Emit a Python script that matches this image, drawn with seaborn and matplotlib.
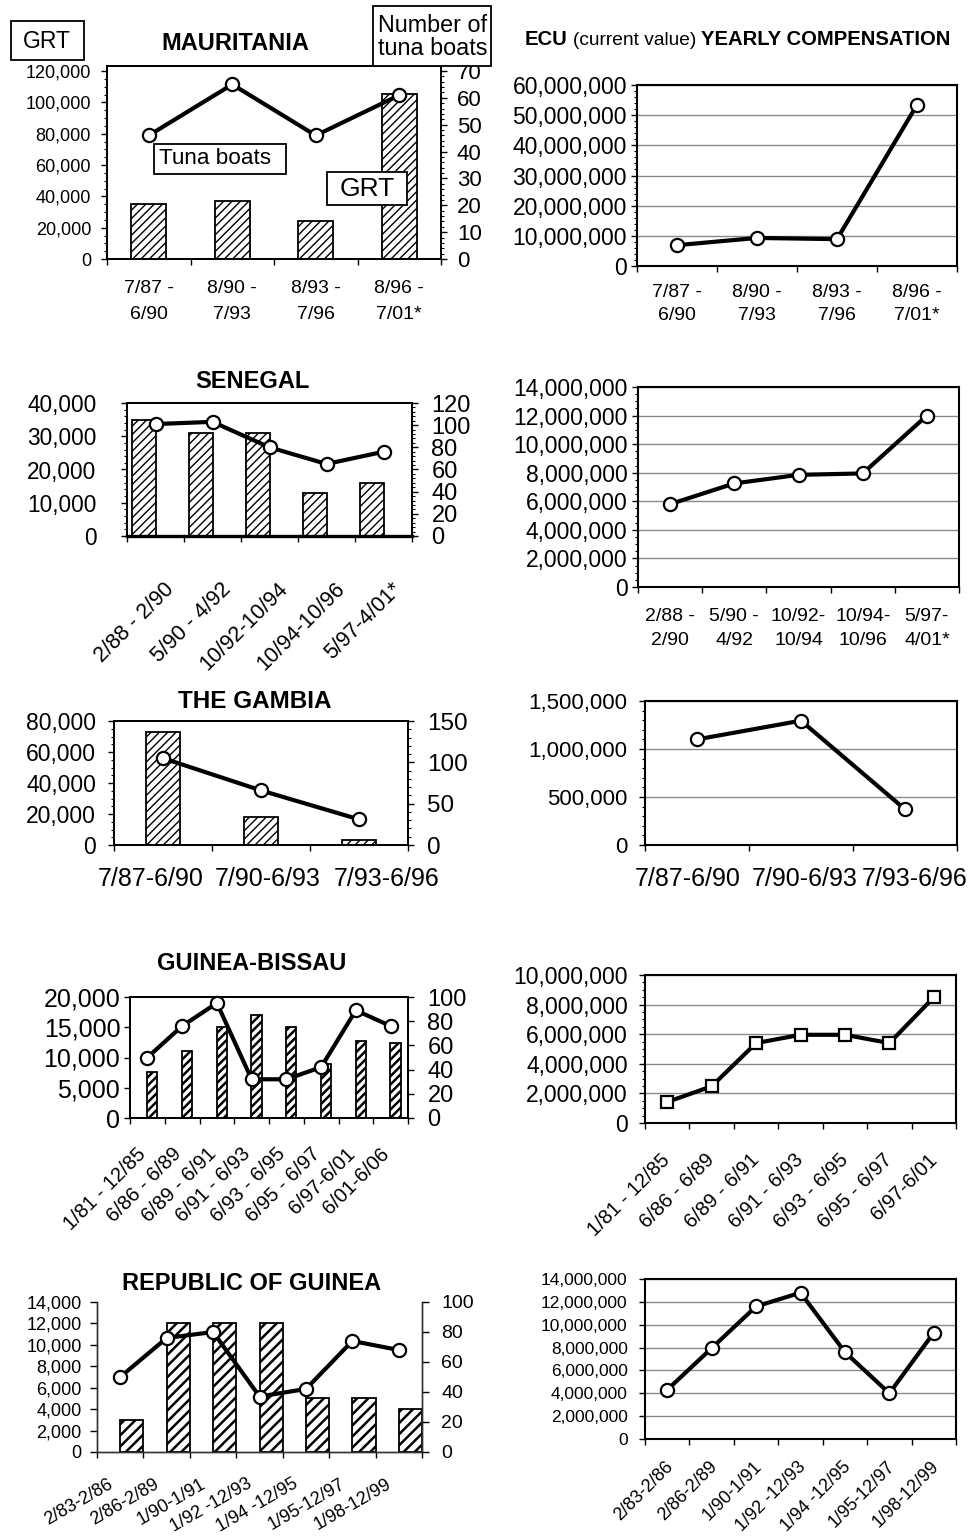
import numpy as np
import pandas as pd
import matplotlib
matplotlib.use("Agg")
import matplotlib.pyplot as plt
import seaborn as sns
from matplotlib.ticker import FixedLocator, MultipleLocator, FuncFormatter, NullFormatter, NullLocator
from matplotlib.transforms import ScaledTranslation, blended_transform_factory
from matplotlib.patches import Rectangle

# ---------------- data ----------------
maur_periods = ["7/87 -\n6/90", "8/90 -\n7/93", "8/93 -\n7/96", "8/96 -\n7/01*"]
maur_grt = [35300, 37200, 24300, 105300]
maur_boats = [46, 65, 46, 61]
maur_ecu = [6.9e6, 9.3e6, 8.9e6, 53.4e6]

sen_periods_bar = ["2/88 - 2/90", "5/90 - 4/92", "10/92-10/94", "10/94-10/96", "5/97-4/01*"]
sen_periods_ecu = ["2/88 -\n2/90", "5/90 -\n4/92", "10/92-\n10/94", "10/94-\n10/96", "5/97-\n4/01*"]
sen_grt = [35000, 31000, 31000, 13000, 16000]
sen_boats = [101, 103, 80, 65, 76]
sen_ecu = [5.8e6, 7.25e6, 7.85e6, 7.95e6, 12.0e6]

gam_periods = ["7/87-6/90", "7/90-6/93", "7/93-6/96"]
gam_grt = [73000, 18000, 3200]
gam_boats = [105, 66, 31]
gam_ecu = [1.10e6, 1.295e6, 0.372e6]

gb_periods_bar = ["1/81 - 12/85", "6/86 - 6/89", "6/89 - 6/91", "6/91 - 6/93",
                  "6/93 - 6/95", "6/95 - 6/97", "6/97-6/01", "6/01-6/06"]
gb_grt = [7600, 11100, 15100, 17100, 15000, 9000, 12700, 12400]
gb_boats = [50, 76, 95, 32, 32, 42, 89, 76]
gb_periods_ecu = ["1/81 - 12/85", "6/86 - 6/89", "6/89 - 6/91", "6/91 - 6/93",
                  "6/93 - 6/95", "6/95 - 6/97", "6/97-6/01"]
gb_ecu = [1.42e6, 2.48e6, 5.4e6, 5.96e6, 5.96e6, 5.4e6, 8.49e6]

rg_periods = ["2/83-2/86", "2/86-2/89", "1/90-1/91", "1/92 -12/93",
              "1/94 -12/95", "1/95-12/97", "1/98-12/99"]
rg_grt = [3000, 12000, 12000, 12000, 5000, 5000, 4000]
rg_boats = [50, 76, 80, 37, 42, 74, 68]
rg_ecu = [4.3e6, 7.95e6, 11.6e6, 12.8e6, 7.6e6, 4.0e6, 9.3e6]

# ---------------- style ----------------
sns.set_theme(style="white")
plt.rcParams["font.family"] = ["Liberation Sans", "DejaVu Sans"]
plt.rcParams.update({
    "text.color": "black", "axes.edgecolor": "black", "xtick.color": "black",
    "ytick.color": "black", "axes.labelcolor": "black", "hatch.linewidth": 1.0,
})

W, H, DPI = 973, 1537, 100
fig = plt.figure(figsize=(W / DPI, H / DPI), dpi=DPI)
fig.patch.set_facecolor("white")

FMT = FuncFormatter(lambda v, p: f"{v:,.0f}")


def px_axes(l, t, r, b):
    return fig.add_axes([l / W, 1 - b / H, (r - l) / W, (b - t) / H])


def fig_title(cx, cy, txt, fs=17):
    fig.text(cx / W, 1 - cy / H, txt, ha="center", va="center", fontsize=fs, weight="bold")


def fig_box(l, t, r, b):
    fig.add_artist(Rectangle((l / W, 1 - b / H), (r - l) / W, (b - t) / H,
                             transform=fig.transFigure, facecolor="white",
                             edgecolor="black", lw=1.3, zorder=4))


def spines(ax, lw=1.4, color="black", top=True):
    for s in ax.spines.values():
        s.set_linewidth(lw)
        s.set_color(color)
        s.set_visible(True)
    if not top:
        ax.spines["top"].set_visible(False)


def style_y(ax, major, minor, fs, pad, side="left", length=4):
    ax.yaxis.set_major_locator(MultipleLocator(major))
    if minor:
        ax.yaxis.set_minor_locator(MultipleLocator(minor))
    else:
        ax.yaxis.set_minor_locator(NullLocator())
    ax.yaxis.set_major_formatter(FMT)
    if side == "left":
        kw = dict(left=True, right=False, labelleft=True)
    else:
        kw = dict(right=True, left=False, labelright=True, labelleft=False)
    ax.tick_params(axis="y", which="major", direction="out", length=length, width=1,
                   labelsize=fs, pad=pad, colors="black", **kw)
    ax.tick_params(axis="y", which="minor", direction="out", length=2.2, width=0.8,
                   colors="black", **kw)


def x_labels(ax, labels, fs, pad_px, rot=0, dx_px=0, linespacing=1.6):
    n = len(labels)
    ax.set_xlim(-0.5, n - 0.5)
    ax.xaxis.set_major_locator(FixedLocator(np.arange(n + 1) - 0.5))
    ax.xaxis.set_major_formatter(NullFormatter())
    ax.xaxis.set_minor_locator(NullLocator())
    ax.tick_params(axis="x", which="major", bottom=True, direction="out",
                   length=4.5, width=1, colors="black")
    dxs = dx_px if np.iterable(dx_px) else [dx_px] * n
    for i, lab in enumerate(labels):
        tr = blended_transform_factory(ax.transData, ax.transAxes) + \
            ScaledTranslation(dxs[i] / DPI, -pad_px / DPI, fig.dpi_scale_trans)
        if rot:
            ax.text(i, 0, lab, transform=tr, rotation=rot, rotation_mode="anchor",
                    ha="right", va="center", fontsize=fs)
        else:
            ax.text(i, 0, lab, transform=tr, ha="center", va="top", fontsize=fs,
                    linespacing=linespacing, multialignment="center")


def bars(ax, cats, vals, width, offset, hatch, hlw):
    sns.barplot(x=cats, y=vals, ax=ax, color="white", edgecolor="black",
                linewidth=1.3, width=width, saturation=1, errorbar=None)
    for p in ax.patches:
        p.set_x(p.get_x() + offset)
        p.set_hatch(hatch)
        if hasattr(p, "set_hatch_linewidth"):
            p.set_hatch_linewidth(hlw)
    ax.set_xlabel("")
    ax.set_ylabel("")


def line(ax, vals, marker="o", ms=9.5, lw=3.0):
    x = np.arange(len(vals))
    sns.lineplot(x=x, y=vals, ax=ax, color="black", linewidth=lw, marker=marker,
                 markersize=ms, markerfacecolor="white", markeredgecolor="black",
                 markeredgewidth=1.6, clip_on=False, zorder=5)
    ax.set_xlabel("")
    ax.set_ylabel("")


def bar_panel(box, cats_n, grt, boats, ylim1, ylim2, maj1, min1, maj2, min2,
              fs1, fs2, pad1, pad2, width, offset, hatch, hlw, top=True, tlen=4,
              spine_color="black", spine_lw=1.4):
    ax = px_axes(*box)
    bars(ax, list(range(cats_n)), grt, width, offset, hatch, hlw)
    ax2 = ax.twinx()
    line(ax2, boats)
    ax.set_ylim(*ylim1)
    ax2.set_ylim(*ylim2)
    style_y(ax, maj1, min1, fs1, pad1, "left", tlen)
    style_y(ax2, maj2, min2, fs2, pad2, "right", tlen)
    spines(ax, spine_lw, spine_color, top)
    spines(ax2, spine_lw, spine_color, top)
    ax.grid(False)
    ax2.grid(False)
    return ax, ax2


def ecu_panel(box, vals, ylim, maj, minor, fs, pad, marker="o", ms=9.5):
    ax = px_axes(*box)
    line(ax, vals, marker=marker, ms=ms)
    ax.set_ylim(*ylim)
    style_y(ax, maj, minor, fs, pad, "left")
    spines(ax, 1.5)
    ax.grid(False)
    ax.yaxis.grid(True, which="major", color="#8a8a8a", linewidth=1.0)
    ax.set_axisbelow(True)
    return ax


# ---------------- MAURITANIA ----------------
# plot frame is slightly taller than the 0-120,000 / 0-70 scale
frame_extra = 193 / 188
ax, ax2 = bar_panel((107, 66, 441, 259), len(maur_periods), maur_grt, maur_boats,
                    (0, 120000 * frame_extra), (0, 70 * frame_extra),
                    20000, 5000, 10, 2, 13, 16, 7.5, 7.5,
                    0.42, 0.0, "////", 1.0)
x_labels(ax, maur_periods, 14, 21, linespacing=1.7)
fig_title(235, 43, "MAURITANIA", 17)

axr = ecu_panel((637, 85, 957, 266), maur_ecu, (0, 60e6), 10e6, 2e6, 16.5, 3.2)
x_labels(axr, maur_periods, 14, 18, linespacing=1.45)

# boxes with labels
fig_box(11, 21, 84, 60)
fig.text(47 / W, 1 - 41 / H, "GRT", ha="center", va="center", fontsize=16.5, zorder=5)
fig_box(373, 6, 491, 66)
fig.text(378 / W, 1 - 37 / H, "Number of\ntuna boats", ha="left", va="center",
         fontsize=16.8, linespacing=1.05, zorder=5)
fig_box(154, 144, 286, 174)
fig.text(159 / W, 1 - 159 / H, "Tuna boats", ha="left", va="center", fontsize=16.2, zorder=5)
fig_box(327, 172, 407, 205)
fig.text(367 / W, 1 - 189 / H, "GRT", ha="center", va="center", fontsize=19, zorder=5)

# ECU heading with mixed weights
base = 1 - 45 / H
t1 = fig.text(525 / W, base, "ECU", fontsize=14.6, weight="bold", va="baseline")
fig.canvas.draw()
rend = fig.canvas.get_renderer()
bb = t1.get_window_extent(rend)
t2 = fig.text((bb.x1 + 5) / W, base, "(current value)", fontsize=13.8, va="baseline")
bb = t2.get_window_extent(rend)
fig.text((bb.x1 + 5) / W, base, "YEARLY COMPENSATION", fontsize=14.6, weight="bold", va="baseline")

# ---------------- SENEGAL ----------------
ax, ax2 = bar_panel((127, 403, 412, 536), len(sen_periods_bar), sen_grt, sen_boats,
                    (0, 40000), (0, 120), 10000, 2000, 20, 4, 16.3, 17, 18, 10,
                    0.41, -0.2, "////", 1.0)
ax.spines["bottom"].set_linewidth(2.4)
x_labels(ax, sen_periods_bar, 15.5, 50, rot=45, dx_px=15)
fig_title(252, 382, "SENEGAL", 17)

axr = ecu_panel((638, 387, 959, 587), sen_ecu, (0, 14e6), 2e6, 0.5e6, 16.5, 3.5)
x_labels(axr, sen_periods_ecu, 14, 21, linespacing=1.55)

# ---------------- THE GAMBIA ----------------
ax, ax2 = bar_panel((114, 721, 408, 845), len(gam_periods), gam_grt, gam_boats,
                    (0, 80000), (0, 150), 20000, 5000, 50, 10, 16.5, 17.5, 9, 10,
                    0.35, 0.0, "////", 1.0)
x_labels(ax, gam_periods, 18, 22, dx_px=[-12, 7, 28])
fig_title(255, 702, "THE GAMBIA", 17.5)

axr = ecu_panel((645, 701, 957, 845), gam_ecu, (0, 1.5e6), 500000, 100000, 16, 8.5)
x_labels(axr, gam_periods, 18, 22, dx_px=[-9, 4, 10])

# ---------------- GUINEA-BISSAU ----------------
ax, ax2 = bar_panel((130, 997, 408, 1118), len(gb_periods_bar), gb_grt, gb_boats,
                    (0, 20000), (0, 100), 5000, None, 20, None, 18, 17, 3, 10,
                    0.3, 0.14, "////", 1.8)
x_labels(ax, gb_periods_bar, 14.5, 33, rot=45, dx_px=-4)
fig_title(252, 963, "GUINEA-BISSAU", 17)

axr = ecu_panel((645, 975, 956, 1123), gb_ecu, (0, 10e6), 2e6, 0.5e6, 16.5, 8.5,
                marker="s", ms=9)
x_labels(axr, gb_periods_ecu, 14.5, 34, rot=45, dx_px=0)

# ---------------- REPUBLIC OF GUINEA ----------------
ax, ax2 = bar_panel((97, 1302, 422, 1452), len(rg_periods), rg_grt, rg_boats,
                    (0, 14000), (0, 100), 2000, None, 20, None, 13, 14, 6, 9,
                    0.5, 0.25, "///", 1.8, top=False, tlen=5,
                    spine_color="#333333", spine_lw=1.0)
x_labels(ax, rg_periods, 13, 31, rot=30, dx_px=-9)
fig_title(252, 1283, "REPUBLIC OF GUINEA", 17)

axr = ecu_panel((645, 1279, 956, 1439), rg_ecu, (0, 14e6), 2e6, None, 12.5, 8.5)
x_labels(axr, rg_periods, 13, 25, rot=45, dx_px=3)

fig.savefig("out.png", dpi=DPI, facecolor="white")
